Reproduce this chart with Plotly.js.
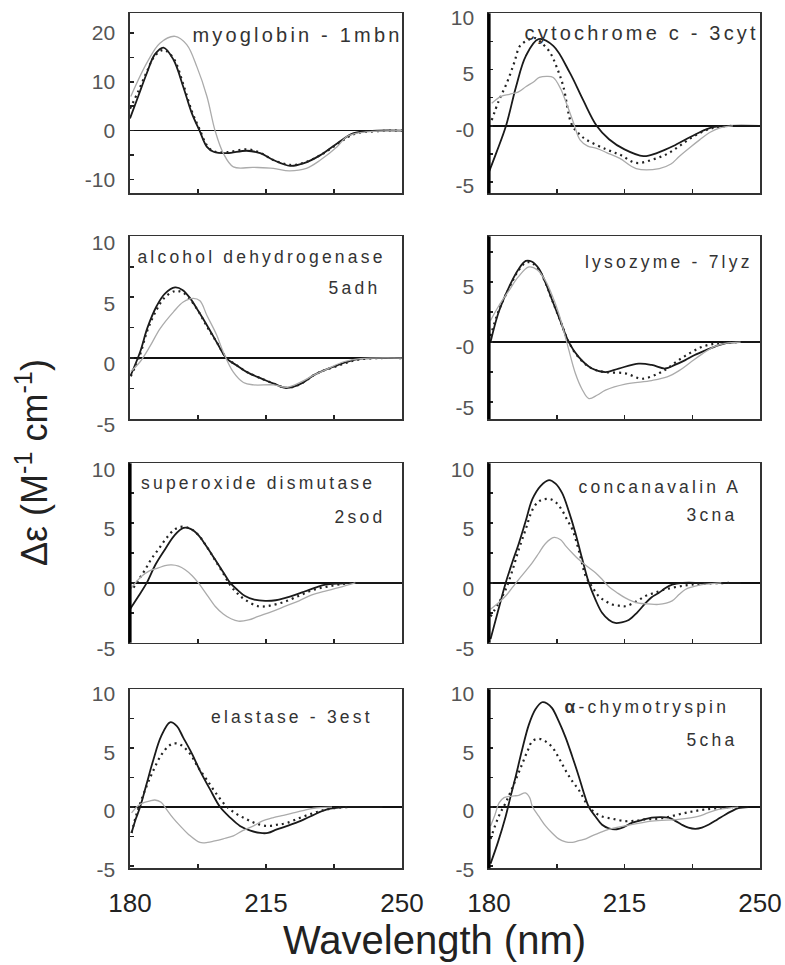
<!DOCTYPE html>
<html><head><meta charset="utf-8">
<script src="https://cdn.plot.ly/plotly-3.0.1.min.js"></script>
<style>html,body{margin:0;padding:0;background:#fff}#chart{width:785px;height:965px}</style>
</head><body><div id="chart"></div>
<script>
// ---------- DATA ----------
const panelNames = ["myoglobin - 1mbn","cytochrome c - 3cyt","alcohol dehydrogenase","lysozyme - 7lyz","superoxide dismutase","concanavalin A","elastase - 3est","<b>α</b>-chymotryspin"];
const panelCodes = ["","","5adh","","2sod","3cna","","5cha"];
const xTickVals = [180,197.5,215,232.5,250];
const xTickText = ["180","","215","","250"];

// myoglobin
const mbnSolidX = [180,182.1,184.3,186.4,188.6,191.2,193.7,195.9,197.9,199.8,201.5,205,210,213.5,216.9,221.2,224.6,229,233.3,237.6,243.6,250];
const mbnSolidY = [2.5,7,11.7,15.6,17,14.5,9,3.6,0,-3.3,-4.3,-4.6,-4.1,-4.6,-6,-7.2,-6.7,-5,-2.6,-0.5,0,0];
const mbnDotX = [180,182.1,184.3,186.4,188.6,191.2,193.7,195.9,197.9,199.8,201.5,205,210,213.5,216.9,221.2,224.6,229,233.3,237.6,243.6,250];
const mbnDotY = [4.5,8,12,15.3,16.5,14.8,9.5,4,0.3,-3,-4.2,-4.4,-3.8,-4.5,-6,-7,-6.6,-5,-2.8,-0.7,-0.1,0];
const mbnGrayX = [180.2,184.3,187.7,191.6,194.6,197.2,199.8,201.9,204,206.6,211.8,216.9,221,225.4,229,233.3,235.8,239.3,243.6,250];
const mbnGrayY = [7,13.8,17.9,19.3,17.6,13.1,7,0,-4.6,-7.4,-7.5,-7.7,-8.2,-7.7,-6,-3.3,-1.2,-0.4,-0.1,0];

// cytochrome c
const cytSolidX = [180,182,184.4,187,189.5,192.8,196.6,200.9,204.3,207.8,211,215,219.9,223.5,227.6,232,237,242,250];
const cytSolidY = [-4.1,-2.3,0,3.5,6.2,7.7,7.1,4.7,2.3,0,-1.2,-2.1,-2.7,-2.4,-1.8,-1.0,-0.2,0,0];
const cytDotX = [180.7,182.5,184.6,186.5,188,190,191.9,193.5,195.8,197.5,199.2,201.4,203.5,205.2,210.3,214,218,222.3,226,229.2,233,237.8,243];
const cytDotY = [0.5,2.2,3.8,5.6,7.1,7.6,7.8,7.4,6.5,5.2,3.5,0.1,-0.8,-1.25,-2.1,-2.6,-3.3,-3.0,-2.5,-1.8,-0.9,-0.2,0];
const cytGrayX = [180.7,183,185.3,187.5,189.6,191.5,193,195,196.6,198.5,200,201.8,203.5,205.5,207.8,210.5,213.8,218,224,227,229.2,232,234.4,237,239.5,243];
const cytGrayY = [2.0,2.6,2.8,3.0,3.5,3.9,4.3,4.4,4.3,3.3,2.0,0.3,-1.25,-1.8,-2.0,-2.4,-2.9,-3.8,-3.8,-3.4,-2.7,-1.9,-1.25,-0.6,-0.2,0];

// alcohol dehydrogenase
const adhSolidX = [180.2,182.6,184.5,186.9,189,191.6,193.5,195.5,197.5,199.8,202.5,204.9,207.5,210.1,214,217,220.4,224,227.3,230,233.3,236,239.3,244,250];
const adhSolidY = [-1.4,0.5,2.5,4.3,5.3,5.8,5.6,4.9,3.9,2.7,1.2,-0.05,-0.6,-1.15,-1.7,-2.1,-2.45,-2.1,-1.4,-1.0,-0.6,-0.3,-0.05,0,0];
const adhDotX = [180.2,182.6,184.5,186.9,189,191.6,193.5,195.5,197.5,199.8,202.5,204.9,207.5,210.1,214,217,220.4,224,227.3,230,233.3,236,239.3,244,250];
const adhDotY = [-1.5,0.3,2.3,4.0,5.0,5.5,5.4,4.8,3.9,2.6,1.2,0,-0.6,-1.15,-1.7,-2.1,-2.45,-2.1,-1.4,-1.0,-0.65,-0.35,-0.1,0,0];
const adhGrayX = [180.2,182.6,185.2,187.7,191.2,193.7,196.3,198,199.8,202.3,204,206.6,209.2,211.8,217,220.4,223.8,227.3,230.7,235,239.3,250];
const adhGrayY = [-1.1,-0.3,1.0,2.4,3.8,4.6,4.9,4.7,3.5,1.9,0.5,-1.15,-2.0,-2.2,-2.2,-2.4,-2.0,-1.4,-0.9,-0.3,-0.05,0];

// lysozyme
const lyzSolidX = [180.4,182.5,185.2,187.5,189.5,191,192.9,194.5,196.3,198.5,200.6,203.2,206.6,210.1,213.5,218.7,222,225.5,228,230.7,233,235.8,238.5,241,245,250];
const lyzSolidY = [0,2.5,4.6,6.0,6.75,6.7,6.1,5.0,3.5,1.7,0,-1.25,-2.2,-2.5,-2.2,-1.8,-1.9,-2.2,-1.9,-1.5,-1.1,-0.7,-0.35,-0.1,0,0];
const lyzDotX = [180.4,182.5,185.2,187.5,189.5,191,192.9,194.5,196.3,198.5,200.6,203.2,206.6,210.1,215.2,219.5,223.8,226.5,229,232,235,238,241,245];
const lyzDotY = [0.5,2.6,4.5,5.9,6.6,6.6,6.0,5.0,3.5,1.7,0,-1.3,-2.2,-2.5,-2.6,-3.05,-2.6,-2.1,-1.5,-0.9,-0.4,-0.15,-0.05,0];
const lyzGrayX = [180.4,182.5,185.2,187.5,190.3,192.5,194.6,196.3,198,200.2,202.3,204,205.8,208,210.1,215.2,222,226,229,232,235,238,241,245];
const lyzGrayY = [1.8,3.0,4.3,5.4,6.25,6.0,5.1,3.9,2.4,-0.15,-2.6,-3.9,-4.7,-4.4,-4.0,-3.5,-3.2,-2.9,-2.4,-1.7,-1.0,-0.4,-0.1,0];

// superoxide dismutase
const sodSolidX = [180,182,184.3,186.5,189,191.5,193.8,195.7,197.6,199.8,201.9,204,205.8,207.7,209.6,212,214.8,217.5,220,222.5,225.1,227.7,230.3,234,238,244,250];
const sodSolidY = [-2.2,-1.2,0,1.5,2.8,4.0,4.6,4.5,4.0,3.0,1.95,0.9,0,-0.6,-1.1,-1.4,-1.5,-1.45,-1.25,-1.0,-0.7,-0.4,-0.15,-0.05,0,0,0];
const sodDotX = [180.9,182.5,183.9,185.5,187.3,189.5,191.6,193.5,195.7,197.6,199.8,201.9,204,205.8,207.7,209.6,213,216,220,224,227.5,231,234.5,238];
const sodDotY = [-0.4,0.4,1.1,2.0,2.8,3.8,4.5,4.7,4.5,4.0,3.0,1.9,0.8,-0.2,-0.9,-1.4,-1.95,-1.9,-1.55,-1.0,-0.55,-0.3,-0.1,0];
const sodGrayX = [180,183,185,187.3,189,190.7,192.5,194.2,196,197.6,199.8,201.9,204,206,207.9,210.5,213,216.5,220,223.5,226.8,230,233.7,238];
const sodGrayY = [-0.55,0.55,1.0,1.25,1.45,1.5,1.4,1.1,0.6,0,-1.0,-1.95,-2.6,-3.0,-3.2,-3.1,-2.8,-2.4,-1.95,-1.5,-1.0,-0.7,-0.4,0];

// concanavalin A
const cnaSolidX = [180.4,182.3,184.3,186,187.7,189.5,191.2,193.3,195.5,197.2,198.9,200.6,202.3,204,205.8,207.5,209.2,211,212.6,214.3,216.1,218.2,220.4,222,223.8,225.5,227.3,230,235,240,245];
const cnaSolidY = [-4.7,-2.4,0,1.7,3.3,5.2,7.0,8.1,8.6,8.3,7.5,6.0,4.2,2.1,0,-1.4,-2.5,-3.1,-3.35,-3.3,-3.1,-2.5,-1.7,-1.2,-0.85,-0.45,-0.15,0,0,0,0];
const cnaDotX = [180.4,182.3,184.3,186,187.7,189.5,191.2,192.8,194.2,195.8,197.4,199,200.3,201.5,203.3,205,206.6,208.3,210,211.8,213.5,215.2,217.8,220.4,223,225.5,229,232.4,237,242];
const cnaDotY = [-2.8,-1.8,-0.55,1.0,2.8,4.5,6.1,6.8,7.0,7.0,6.7,6.0,5.2,4.5,2.6,0.55,-0.3,-1.1,-1.5,-1.8,-1.9,-1.95,-1.6,-1.1,-0.8,-0.55,-0.3,-0.15,-0.05,0];
const cnaGrayX = [180.4,182.3,184.3,186,187.7,189.5,191.2,192.9,194.6,196.8,198.5,199.8,201.5,203.2,205.3,207.5,209.2,210.9,213,215.2,218.7,221,223.8,227.3,229,230.7,233,235,240];
const cnaGrayY = [-2.2,-1.7,-1.1,-0.4,0.3,1.0,1.7,2.5,3.3,3.8,3.6,3.1,2.5,1.95,1.4,0.85,0.3,-0.3,-0.8,-1.25,-1.7,-1.75,-1.8,-1.5,-1.0,-0.55,-0.3,-0.15,0];

// elastase
const estSolidX = [180.4,181.5,182.6,184.3,186,188,190.3,192,193.7,196,198,200.6,203.2,205.8,208.3,211,213.5,215.5,217.8,220.5,223.8,227,230.7,235,240,245];
const estSolidY = [-2.2,-1.0,0,2.0,4.0,6.0,7.2,6.9,5.9,4.5,3.1,1.5,0,-0.9,-1.6,-2.0,-2.2,-2.2,-1.9,-1.6,-1.2,-0.7,-0.2,0,0,0];
const estDotX = [180.4,181.5,182.6,184.3,186,188,190,191.2,193,195.5,197.5,199.8,202.5,205,207.5,210.1,212.5,215.2,217.8,220.4,223.8,227.3,230,232.4,236];
const estDotY = [-2.2,-0.8,0.3,1.8,3.1,4.4,5.2,5.4,5.3,4.5,3.4,2.3,1.0,0,-0.6,-1.05,-1.4,-1.6,-1.5,-1.35,-0.9,-0.5,-0.25,-0.1,0];
const estGrayX = [180.4,182,183.4,185,186.4,188,189.4,191,192.9,195,198,200,201.5,204,206.6,209,211.8,214,216.9,219.5,222,224.5,227.3,232];
const estGrayY = [-0.5,0.1,0.35,0.5,0.6,0.4,-0.2,-0.9,-1.6,-2.3,-3.0,-3.0,-2.9,-2.7,-2.45,-2.0,-1.6,-1.2,-0.9,-0.7,-0.5,-0.3,-0.1,0];

// alpha-chymotrypsin
const chaSolidX = [180.4,182.3,184.3,185.5,186.9,188.5,190.3,192,193.7,195,196.3,198,199.8,201.5,203.2,204.5,205.8,207.5,209.2,210.9,212.6,214.8,216.9,219.5,222,224.2,226.4,228,229.8,231.5,233.3,235,236.7,239,241,242.7,244.4,247];
const chaSolidY = [-4.8,-3.0,-0.8,0.8,2.6,4.8,7.0,8.3,8.9,8.8,8.4,7.3,5.9,4.3,2.6,1.2,0,-0.8,-1.5,-1.8,-1.9,-1.7,-1.35,-1.1,-0.9,-0.85,-0.9,-1.15,-1.5,-1.75,-1.85,-1.75,-1.5,-1.05,-0.65,-0.35,-0.1,0];
const chaDotX = [180.4,182.5,184.5,186.5,188.5,190,191.2,192.9,194.5,196.3,198,199.8,201.5,203.2,205.8,207.5,209.2,212,215.2,218,220.4,223,225.5,228,230.7,233,235.8,239,243];
const chaDotY = [-2.7,-0.8,0.5,2.0,3.6,4.8,5.6,5.8,5.6,5.1,4.2,3.1,2.2,1.45,0,-0.5,-0.8,-1.0,-1.2,-1.15,-1.05,-1.0,-0.9,-0.7,-0.5,-0.35,-0.2,-0.1,0];
const chaGrayX = [180.4,181.5,182.6,183.9,185.2,186.5,187.7,189.4,190.5,191.2,192.9,194.6,196.3,198,199.8,201.5,203.2,205,206.6,208.5,210.9,215.2,222,228.9,234,236.5,239.3,244.4];
const chaGrayY = [-1.6,-0.7,0.35,0.8,0.9,0.95,1.0,1.2,0.8,0.05,-0.8,-1.6,-2.2,-2.7,-2.95,-3.0,-2.85,-2.7,-2.45,-2.2,-1.9,-1.6,-1.2,-1.05,-0.8,-0.5,-0.2,0];

// y-axis ranges, ticks and tick labels per panel
const yRanges = [[-12.8,24],[-6,10],[-5,10],[-6.4,8.8],[-5,10],[-5,10],[-5.2,10],[-5.2,10]];
const yTickValsBig = [-10,-5,0,5,10,15,20];
const yTickTextBig = ["-10","","0","","10","","20"];
const yTickValsSmall = [-5,-2.5,0,2.5,5,7.5,10];
const yTickTextLeft = ["-5","","0","","5","","10"];
const yTickTextRightTop = ["-5","","-0","","5","","10"];

const seriesX = [
  [mbnSolidX,mbnDotX,mbnGrayX],[cytSolidX,cytDotX,cytGrayX],[adhSolidX,adhDotX,adhGrayX],[lyzSolidX,lyzDotX,lyzGrayX],
  [sodSolidX,sodDotX,sodGrayX],[cnaSolidX,cnaDotX,cnaGrayX],[estSolidX,estDotX,estGrayX],[chaSolidX,chaDotX,chaGrayX]];
const seriesY = [
  [mbnSolidY,mbnDotY,mbnGrayY],[cytSolidY,cytDotY,cytGrayY],[adhSolidY,adhDotY,adhGrayY],[lyzSolidY,lyzDotY,lyzGrayY],
  [sodSolidY,sodDotY,sodGrayY],[cnaSolidY,cnaDotY,cnaGrayY],[estSolidY,estDotY,estGrayY],[chaSolidY,chaDotY,chaGrayY]];

// ---------- LAYOUT / STYLE ----------
const W = 785, H = 965;
const px = v => v / W, py = v => 1 - v / H;
const colX = [[130,402],[489,760]];
const rowY = [[13.3,193.3],[236.3,419],[463.3,642.7],[689.3,868.3]];
const thickLeft = [false,true,false,true,true,true,false,true];
const yLabelShift = [0,4,6,5,6,6,4,4];

const lineStyles = [
  {color:'#1a1a1a', width:1.8},
  {color:'#222', width:2.2, dash:'2px,4px'},
  {color:'#ababab', width:1.3}
];

const traces = [];
const layout = {
  width: W, height: H, margin:{l:0,r:0,t:0,b:0},
  paper_bgcolor:'#fff', plot_bgcolor:'#fff', showlegend:false,
  font:{family:'"Liberation Sans", Arial, sans-serif', color:'#222'},
  annotations: [], shapes: []
};

for (let i = 0; i < 8; i++) {
  const n = i + 1;
  const col = i % 2, row = Math.floor(i / 2);
  const xa = 'xaxis' + (n === 1 ? '' : n), ya = 'yaxis' + (n === 1 ? '' : n);
  const xr = 'x' + (n === 1 ? '' : n), yr = 'y' + (n === 1 ? '' : n);
  for (let s = 0; s < 3; s++) {
    traces.push({
      type:'scatter', mode:'lines', x: seriesX[i][s], y: seriesY[i][s],
      xaxis: xr, yaxis: yr, hoverinfo:'skip',
      line: Object.assign({shape:'spline', smoothing:1}, lineStyles[s])
    });
  }
  const bottom = row === 3;
  layout[xa] = {
    domain:[px(colX[col][0]), px(colX[col][1])], anchor: yr, range:[180,250],
    tickmode:'array', tickvals: xTickVals, ticktext: xTickText,
    showticklabels: bottom, ticks:'inside', ticklen:4, tickwidth:1.5, tickcolor:'#222',
    tickfont:{size:26, color:'#222'}, ticklabelstandoff: 11,
    showline:true, mirror:true, linecolor:'#333', linewidth:1.6,
    showgrid:false, zeroline:false, fixedrange:true
  };
  let tv, tt;
  if (i === 0) { tv = yTickValsBig; tt = yTickTextBig; }
  else if (i === 1 || i === 3) { tv = yTickValsSmall; tt = yTickTextRightTop; }
  else { tv = yTickValsSmall; tt = yTickTextLeft; }
  layout[ya] = {
    domain:[py(rowY[row][1]), py(rowY[row][0])], anchor: xr, range: yRanges[i],
    tickmode:'array', tickvals: tv, ticktext: tt,
    ticks:'inside', ticklen:4, tickwidth:1.5, tickcolor:'#222',
    tickfont:{size:21, color:'#555'}, ticklabelstandoff: 9, ticklabelshift: yLabelShift[i],
    showline:true, mirror:true, linecolor:'#333', linewidth:1.6,
    showgrid:false, zeroline:true, zerolinecolor:'#111', zerolinewidth:1.6, fixedrange:true
  };
  if (thickLeft[i]) {
    layout.shapes.push({type:'line', xref: xr + ' domain', yref: yr + ' domain', x0:0, x1:0, y0:0, y1:1,
      line:{color:'#000', width:3.2}});
  }
}

// panel labels
const labelPos = [[297,35,20],[642,33.3,20],[261.5,256.7,17.5],[669,261.7,17.5],[257.5,483.3,17.5],[660,486.7,17.5],[291.7,716.7,17.5],[646.5,706.7,17.5]];
const codePos = [null,null,[354,288],null,[360,516.7],[712,515],null,[712,740]];
for (let i = 0; i < 8; i++) {
  layout.annotations.push({xref:'paper', yref:'paper', x:px(labelPos[i][0]), y:py(labelPos[i][1]),
    xanchor:'center', yanchor:'middle', showarrow:false, text: panelNames[i],
    font:{size:labelPos[i][2], color:'#333'}});
  if (codePos[i]) {
    layout.annotations.push({xref:'paper', yref:'paper', x:px(codePos[i][0]), y:py(codePos[i][1]),
      xanchor:'center', yanchor:'middle', showarrow:false, text: panelCodes[i],
      font:{size:17.5, color:'#333'}});
  }
}
// global axis titles
layout.annotations.push({xref:'paper', yref:'paper', x:px(434), y:py(940), xanchor:'center', yanchor:'middle',
  showarrow:false, text:'Wavelength (nm)', font:{size:40, color:'#222'}});
layout.annotations.push({xref:'paper', yref:'paper', x:px(32), y:py(463), xanchor:'center', yanchor:'middle',
  showarrow:false, textangle:-90, text:'Δε (M<sup>-1</sup> cm<sup>-1</sup>)', font:{size:36, color:'#222'}});

Plotly.newPlot('chart', traces, layout, {staticPlot:true, displayModeBar:false}).then(() => {
  document.querySelectorAll('.annotation-text').forEach(el => {
    const t = el.textContent;
    if (!t.startsWith('Wavelength') && !t.startsWith('Δε')) el.style.letterSpacing = '3.2px';
  });
});
</script></body></html>
